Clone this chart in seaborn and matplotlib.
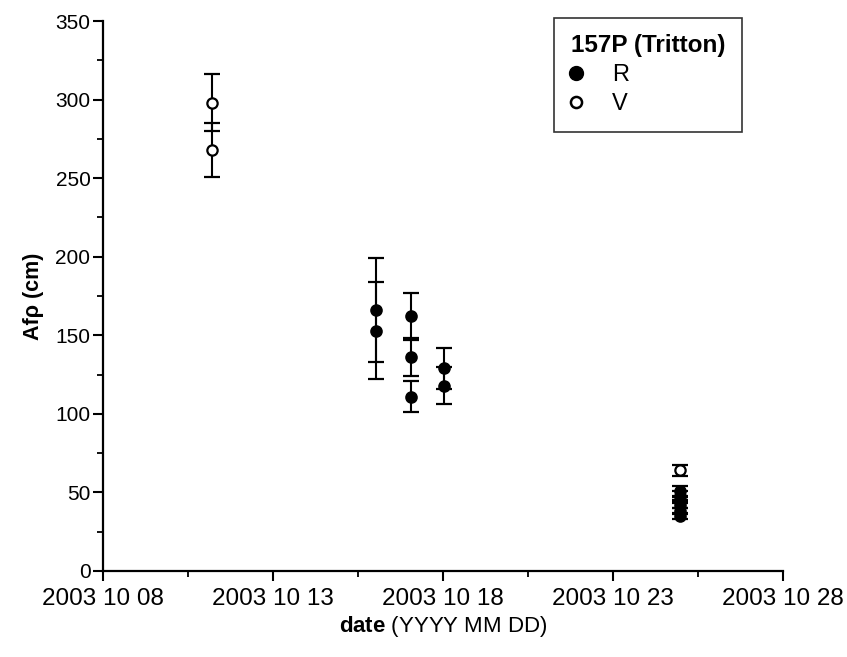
import matplotlib
matplotlib.use("Agg")
import matplotlib.pyplot as plt
import matplotlib.dates as mdates
from matplotlib.ticker import MultipleLocator, FixedLocator
from matplotlib.lines import Line2D
import seaborn as sns
import pandas as pd

# ---- data ----
r_dates = ["2003-10-16 01:00", "2003-10-16 01:00",
           "2003-10-17 01:30", "2003-10-17 01:30", "2003-10-17 01:30",
           "2003-10-18 01:00", "2003-10-18 01:00",
           "2003-10-24 23:00", "2003-10-24 23:00", "2003-10-24 23:00",
           "2003-10-24 23:00", "2003-10-24 23:00", "2003-10-24 23:00"]
r_values = [166, 153, 162, 136, 111, 129, 118, 51, 48, 45, 42, 38, 35]
r_errors = [33, 31, 15, 12, 10, 13, 12, 3, 3, 2, 2, 2, 2]

v_dates = ["2003-10-11 05:00", "2003-10-11 05:00", "2003-10-24 23:00"]
v_values = [298, 268, 64]
v_errors = [18, 17, 3.5]

legend_title = "157P (Tritton)"
x_tick_start = "2003-10-08"
x_tick_end = "2003-10-28"

# ---- build frames ----
df_r = pd.DataFrame({"date": pd.to_datetime(r_dates), "value": r_values, "err": r_errors})
df_v = pd.DataFrame({"date": pd.to_datetime(v_dates), "value": v_values, "err": v_errors})

sns.set_theme(style="ticks")
plt.rcParams["font.family"] = ["Liberation Sans", "DejaVu Sans"]
plt.rcParams["mathtext.fontset"] = "custom"
plt.rcParams["mathtext.rm"] = "Liberation Sans"
plt.rcParams["mathtext.bf"] = "Liberation Sans:bold"
for k in ("text.color", "axes.labelcolor", "xtick.color", "ytick.color",
          "xtick.labelcolor", "ytick.labelcolor", "axes.edgecolor"):
    plt.rcParams[k] = "black"

fig = plt.figure(figsize=(8.47, 6.57), dpi=100)
ax = fig.add_axes([0.1216, 0.1309, 0.8028, 0.8371])

# error bars
for d in (df_r, df_v):
    ax.errorbar(d["date"], d["value"], yerr=d["err"], fmt="none",
                ecolor="black", elinewidth=1.5, capsize=5.5, capthick=1.6, zorder=2)

sns.scatterplot(data=df_r, x="date", y="value", ax=ax, color="black",
                edgecolor="black", s=62, marker="o", linewidth=1.2, zorder=3, legend=False)
sns.scatterplot(data=df_v, x="date", y="value", ax=ax, color="white",
                edgecolor="black", s=55, marker="o", linewidth=1.6, zorder=3, legend=False)

ax.set_ylim(0, 350)
t0, t1 = pd.Timestamp(x_tick_start), pd.Timestamp(x_tick_end)
ax.set_xlim(t0, t1)
major = pd.date_range(t0, t1, freq="5D")
minor = pd.date_range(t0, t1, freq="60h")
ax.xaxis.set_major_locator(FixedLocator(mdates.date2num(major)))
ax.xaxis.set_minor_locator(FixedLocator(mdates.date2num(minor)))
ax.xaxis.set_major_formatter(mdates.DateFormatter("%Y %m %d"))
ax.yaxis.set_major_locator(MultipleLocator(50))
ax.yaxis.set_minor_locator(MultipleLocator(25))

sns.despine(ax=ax)
for sp in ("left", "bottom"):
    ax.spines[sp].set_linewidth(1.6)
    ax.spines[sp].set_color("black")
ax.tick_params(axis="both", which="major", length=7, width=1.5, colors="black",
               direction="out")
ax.tick_params(axis="y", which="major", labelsize=15, pad=2)
ax.tick_params(axis="x", which="major", labelsize=17.5, pad=5)
ax.tick_params(axis="both", which="minor", length=4, width=1.3, colors="black", direction="out")

ax.set_xlabel(r"$\bf{date}$ (YYYY MM DD)", fontsize=16, labelpad=3)
ax.set_ylabel("Afρ (cm)", fontsize=15.5, fontweight="bold", labelpad=8)

handles = [
    Line2D([], [], marker="o", linestyle="none", markerfacecolor="black",
           markeredgecolor="black", markersize=10),
    Line2D([], [], marker="o", linestyle="none", markerfacecolor="white",
           markeredgecolor="black", markeredgewidth=1.8, markersize=8),
]
leg = ax.legend(handles, ["R", "V"], title=legend_title, loc="upper right",
                bbox_to_anchor=(0.876, 0.973), bbox_transform=fig.transFigure,
                borderaxespad=0,
                frameon=True, fancybox=False, fontsize=17, title_fontsize=17.5,
                handletextpad=1.3, borderpad=0.7, labelspacing=0.3,
                handlelength=0.45, alignment="left")
leg.get_title().set_fontweight("bold")
leg.get_frame().set_edgecolor("black")
leg.get_frame().set_linewidth(1.2)
leg.get_frame().set_boxstyle("square", pad=0)

fig.savefig("out.png", dpi=100)
